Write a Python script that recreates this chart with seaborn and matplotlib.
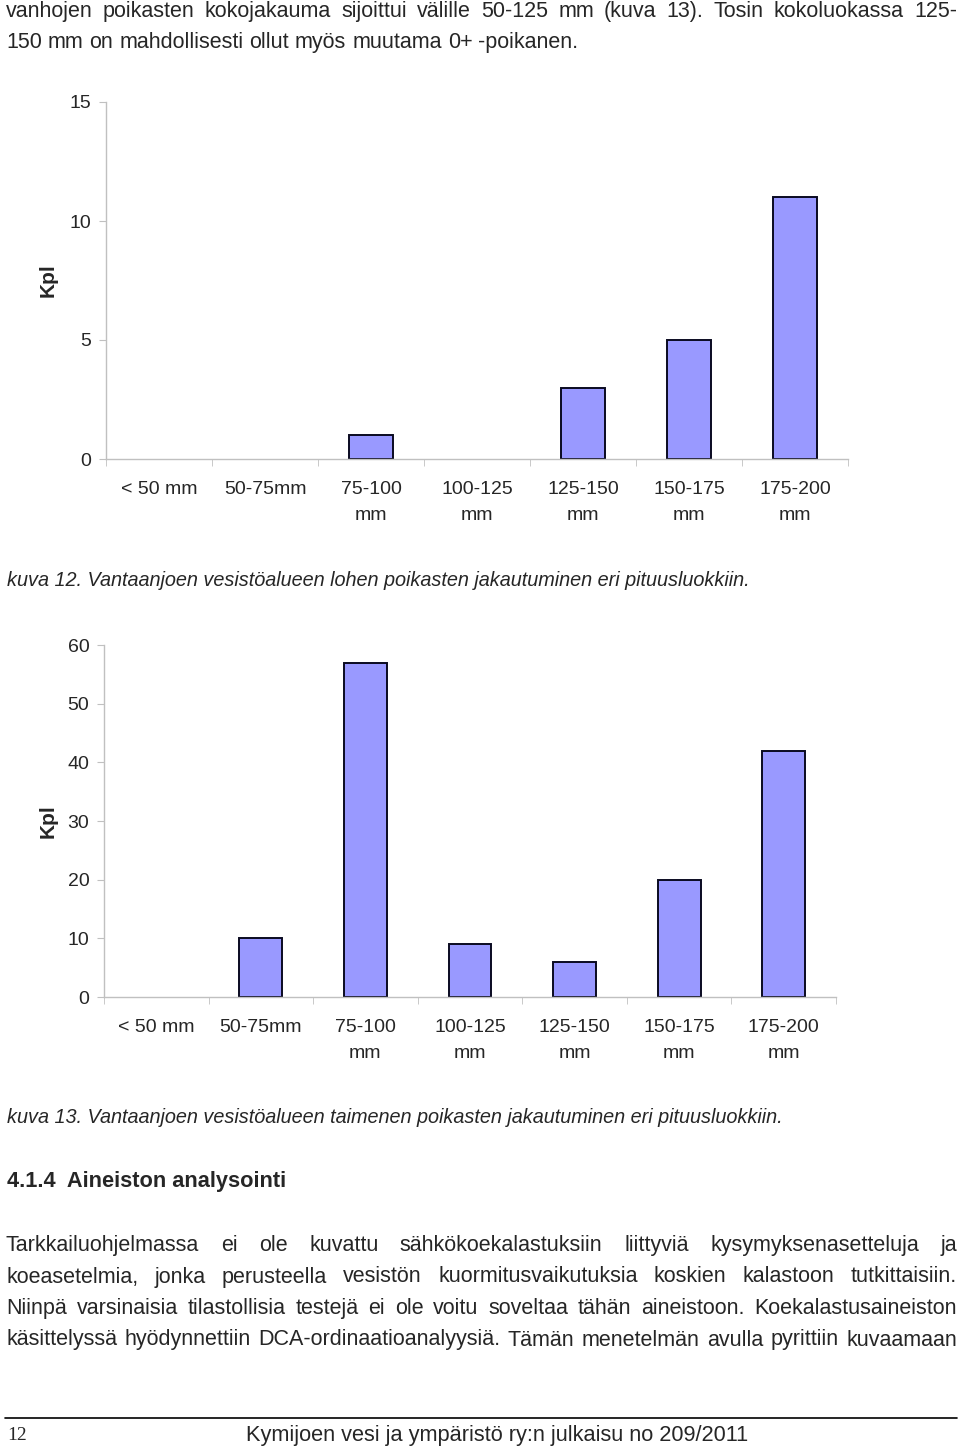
import matplotlib
matplotlib.use("Agg")
import matplotlib.pyplot as plt
import seaborn as sns
from matplotlib.ticker import FixedLocator

# length classes and counts read from the page
categories = ["< 50 mm", "50-75mm", "75-100\nmm", "100-125\nmm",
              "125-150\nmm", "150-175\nmm", "175-200\nmm"]
lohi_counts = [0, 0, 1, 0, 3, 5, 11]
taimen_counts = [0, 10, 57, 9, 6, 20, 42]
lohi_yticks = [0, 5, 10, 15]
taimen_yticks = [0, 10, 20, 30, 40, 50, 60]

top_lines = [
    "vanhojen poikasten kokojakauma sijoittui välille 50-125 mm (kuva 13). Tosin kokoluokassa 125-",
    "150 mm on mahdollisesti ollut myös muutama 0+ -poikanen.",
]
caption12 = "kuva 12. Vantaanjoen vesistöalueen lohen poikasten jakautuminen eri pituusluokkiin."
caption13 = "kuva 13. Vantaanjoen vesistöalueen taimenen poikasten jakautuminen eri pituusluokkiin."
heading = "4.1.4  Aineiston analysointi"
para_lines = [
    "Tarkkailuohjelmassa ei ole kuvattu sähkökoekalastuksiin liittyviä kysymyksenasetteluja ja",
    "koeasetelmia, jonka perusteella vesistön kuormitusvaikutuksia koskien kalastoon tutkittaisiin.",
    "Niinpä varsinaisia tilastollisia testejä ei ole voitu soveltaa tähän aineistoon. Koekalastusaineiston",
    "käsittelyssä hyödynnettiin DCA-ordinaatioanalyysiä. Tämän menetelmän avulla pyrittiin kuvaamaan",
]
footer = "Kymijoen vesi ja ympäristö ry:n julkaisu no 209/2011"

sns.set_style("white")
plt.rcParams["font.family"] = ["Liberation Sans", "DejaVu Sans"]

W, H = 960, 1446
fig = plt.figure(figsize=(W / 100, H / 100), dpi=100)
BODY = 15.5


def px(y):
    return 1 - y / H


def justify(line, y, x0=6, x1=957, size=BODY, full=True):
    words = line.split(" ")
    r = fig.canvas.get_renderer()
    objs = [fig.text(0, px(y), w, fontsize=size, va="baseline") for w in words]
    widths = [o.get_window_extent(r).width for o in objs]
    if full and len(words) > 1:
        gap = (x1 - x0 - sum(widths)) / (len(words) - 1)
    else:
        gap = size * 0.278 * 100 / 72
    x = x0
    for o, w in zip(objs, widths):
        o.set_x(x / W)
        x += w + gap


def bar_chart(rect, counts, yticks, ylab_x):
    ax = fig.add_axes(rect)
    sns.barplot(x=list(range(len(categories))), y=counts, color="#9999ff",
                edgecolor="#0a0a20", linewidth=1.4, width=0.41, saturation=1, ax=ax)
    # empty classes get no bar at all
    for p in ax.patches:
        if p.get_height() == 0:
            p.set_visible(False)
    ax.set_xlim(-0.5, len(categories) - 0.5)
    ax.set_ylim(yticks[0], yticks[-1])
    ax.set_yticks(yticks)
    ax.set_xticks(range(len(categories)))
    ax.set_xticklabels(categories, fontsize=14, linespacing=1.7)
    ax.xaxis.set_minor_locator(FixedLocator([i - 0.5 for i in range(len(categories) + 1)]))
    ax.tick_params(axis="x", which="major", length=0, pad=16)
    ax.tick_params(axis="x", which="minor", length=5, color="#c0c0c0", direction="out", bottom=True)
    ax.tick_params(axis="y", length=5, color="#c0c0c0", direction="out", left=True,
                   labelsize=14, pad=5.5)
    for s in ["top", "right"]:
        ax.spines[s].set_visible(False)
    for s in ["left", "bottom"]:
        ax.spines[s].set_color("#c0c0c0")
        ax.spines[s].set_linewidth(1.0)
    ax.set_xlabel("")
    ax.set_ylabel("Kpl", fontsize=15, fontweight="bold")
    ax.yaxis.set_label_coords(ylab_x, 0.5)
    return ax


bar_chart([106 / W, 1 - 459 / H, 742 / W, 357 / H], lohi_counts, lohi_yticks, -0.065)
bar_chart([104 / W, 1 - 997 / H, 732 / W, 352 / H], taimen_counts, taimen_yticks, -0.064)

justify(top_lines[0], 17)
justify(top_lines[1], 48, full=False)

fig.text(7 / W, px(586), caption12, fontsize=14.3, style="italic", va="baseline")
fig.text(7 / W, px(1123), caption13, fontsize=14.3, style="italic", va="baseline")
fig.text(7 / W, px(1187), heading, fontsize=15.7, fontweight="bold", va="baseline")

for i, line in enumerate(para_lines):
    justify(line, 1251 + i * 31.5)

fig.add_artist(plt.Line2D([5 / W, 957 / W], [px(1418), px(1418)], color="black", linewidth=1.2))
fig.text(7 / W, px(1440), "12", fontsize=14, family=["Liberation Serif", "DejaVu Serif"], va="baseline")
fig.text(497 / W, px(1441), footer, fontsize=15.7, ha="center", va="baseline",
         family=["Liberation Sans Narrow", "Liberation Sans"], stretch="condensed")

fig.savefig("out.png", dpi=100)
